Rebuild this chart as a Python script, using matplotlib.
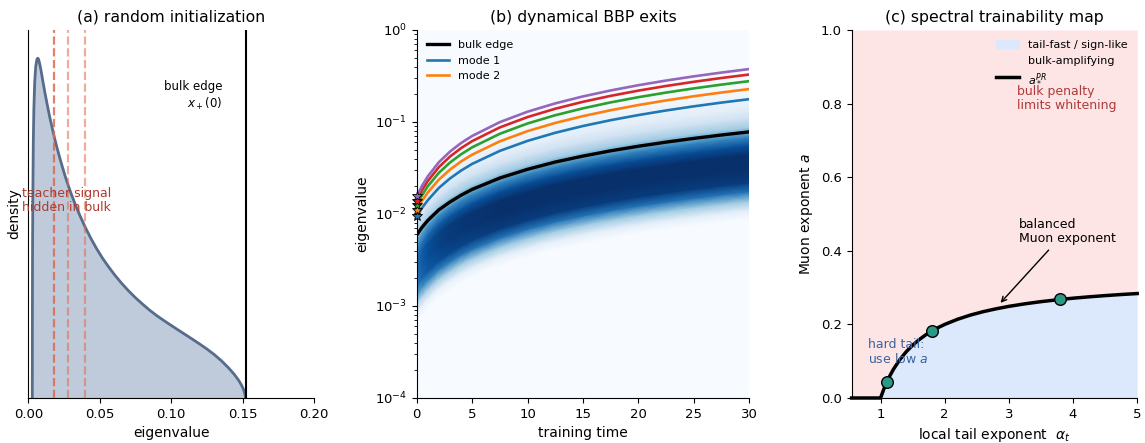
import numpy as np
import matplotlib.pyplot as plt
from matplotlib.lines import Line2D
from matplotlib.patches import Patch

# (a) bulk density at initialisation (normalised to its peak)
dens_x = [0.0028, 0.00285, 0.0029, 0.0030, 0.0032, 0.0035, 0.0039, 0.0045, 0.0052, 0.0060,
          0.0066, 0.0072, 0.0080, 0.0090, 0.0100, 0.0117, 0.0135, 0.015, 0.0165, 0.0182,
          0.020, 0.022, 0.024, 0.026, 0.028, 0.030, 0.033, 0.036, 0.040, 0.044,
          0.048, 0.052, 0.056, 0.060, 0.065, 0.070, 0.075, 0.080, 0.085, 0.090,
          0.095, 0.100, 0.105, 0.110, 0.115, 0.120, 0.125, 0.130, 0.135, 0.140,
          0.144, 0.147, 0.149, 0.1505, 0.1515, 0.152]
dens_y = [0.0, 0.15, 0.30, 0.45, 0.60, 0.75, 0.85, 0.93, 0.975, 0.996,
          1.0, 0.997, 0.983, 0.962, 0.937, 0.897, 0.858, 0.827, 0.799, 0.768,
          0.738, 0.707, 0.678, 0.650, 0.625, 0.601, 0.568, 0.538, 0.501, 0.468,
          0.438, 0.411, 0.387, 0.3645, 0.339, 0.316, 0.295, 0.276, 0.258, 0.242,
          0.2275, 0.2135, 0.1998, 0.1862, 0.1725, 0.1585, 0.144, 0.128, 0.110, 0.089,
          0.070, 0.053, 0.039, 0.026, 0.013, 0.0]
bulk_edge0 = 0.152
teacher_modes = [0.018, 0.028, 0.040]
teacher_alpha = [0.85, 0.55, 0.55]

# (b) bulk edge and outlier trajectories
t_pts = [0, 0.5, 1, 2, 3, 4, 5, 7.5, 10, 12.5, 15, 17.5, 20, 22.5, 25, 27.5, 30]
edge = [0.0059, 0.0072, 0.0085, 0.0111, 0.0135, 0.0160, 0.0185, 0.0246, 0.0306, 0.0367,
        0.0426, 0.0486, 0.0545, 0.0604, 0.0663, 0.0722, 0.0781]
modes = [
    [0.0094, 0.0117, 0.0141, 0.0192, 0.0243, 0.0296, 0.0350, 0.0485, 0.0623, 0.0763,
     0.0904, 0.1046, 0.1189, 0.1334, 0.1479, 0.1625, 0.177],
    [0.0110, 0.0140, 0.0171, 0.0236, 0.0303, 0.0372, 0.0441, 0.0616, 0.0795, 0.0976,
     0.1158, 0.1342, 0.1528, 0.1715, 0.1903, 0.2091, 0.228],
    [0.0125, 0.0161, 0.0200, 0.0280, 0.0362, 0.0445, 0.0530, 0.0744, 0.0963, 0.1184,
     0.1407, 0.1633, 0.1860, 0.2088, 0.2318, 0.2549, 0.278],
    [0.0140, 0.0183, 0.0228, 0.0323, 0.0420, 0.0519, 0.0619, 0.0873, 0.1131, 0.1393,
     0.1657, 0.1923, 0.2192, 0.2462, 0.2734, 0.3007, 0.328],
    [0.0155, 0.0204, 0.0256, 0.0365, 0.0476, 0.0590, 0.0704, 0.0996, 0.1293, 0.1593,
     0.1896, 0.2202, 0.2510, 0.2821, 0.3133, 0.3446, 0.376],
]
mode_colors = ['#1f77b4', '#ff7f0e', '#2ca02c', '#d62728', '#9467bd']
mode_labels = ['mode 1', 'mode 2', None, None, None]

# (b) bulk density: intensity profile vs log10(eigenvalue / bulk edge), strength per time
band_dlog = [-3.0, -0.95, -0.85, -0.75, -0.65, -0.55, -0.4, -0.25, -0.15, -0.05,
             0.05, 0.15, 0.25, 0.4, 0.55, 3.0]
band_val = [0, 0, 0.1, 0.38, 0.74, 0.95, 1.0, 1.0, 0.88, 0.66,
            0.36, 0.2, 0.1, 0.04, 0, 0]
band_strength = [0.75, 0.83, 0.88, 0.93, 0.96, 0.97, 0.98, 1, 1, 1, 1, 1, 1, 1, 1, 1, 1]

# (c) balanced Muon exponent vs tail exponent
alpha_t = [0.55, 1.0, 1.05, 1.1, 1.15, 1.2, 1.3, 1.4, 1.5, 1.6, 1.7, 1.8, 1.9, 2.0,
           2.2, 2.4, 2.6, 2.8, 3.0, 3.25, 3.5, 3.8, 4.0, 4.25, 4.5, 4.75, 5.0]
a_star = [0.0, 0.0, 0.0235, 0.0439, 0.0618, 0.0776, 0.1041, 0.1256, 0.1434, 0.1583, 0.1710,
          0.1819, 0.1915, 0.1999, 0.2139, 0.2253, 0.2346, 0.2423, 0.2490, 0.2559, 0.2618,
          0.2677, 0.2712, 0.2749, 0.2782, 0.2812, 0.2838]
dots_alpha = [1.1, 1.8, 3.8]
dots_a = [0.0439, 0.1819, 0.2677]

fig = plt.figure(figsize=(11.45, 4.43), dpi=100)
ax_a = fig.add_axes([0.0247, 0.1016, 0.2497, 0.8307])
ax_b = fig.add_axes([0.3639, 0.1016, 0.2904, 0.8307])
ax_c = fig.add_axes([0.7438, 0.1016, 0.2494, 0.8307])

for ax in (ax_a, ax_b, ax_c):
    ax.spines['top'].set_visible(False)
    ax.spines['right'].set_visible(False)
    ax.tick_params(labelsize=9.5)

# ---- (a)
ax_a.fill_between(dens_x, 0, dens_y, color='#bfcbdb', lw=0)
ax_a.plot(dens_x, dens_y, color='#566c8a', lw=2)
for xm, al in zip(teacher_modes, teacher_alpha):
    ax_a.axvline(xm, color='#e0694d', ls='--', lw=1.6, alpha=al, zorder=3)
ax_a.axvline(bulk_edge0, color='black', lw=1.5)
ax_a.text(0.027, 0.538 * 1.083, 'teacher signal\nhidden in bulk', color='#b03a2e', fontsize=9,
          ha='center', va='center', linespacing=1.1)
ax_a.text(0.136, 0.82 * 1.083, 'bulk edge\n$x_+(0)$', fontsize=8.5, ha='right', va='center')
ax_a.set_xlim(0, 0.2)
ax_a.set_ylim(0, 1.083)
ax_a.set_yticks([])
ax_a.set_xticks([0, 0.05, 0.1, 0.15, 0.2])
ax_a.set_xlabel('eigenvalue', fontsize=10)
ax_a.set_ylabel('density', fontsize=10, labelpad=5)
ax_a.set_title('(a) random initialization', fontsize=11.3)

# ---- (b)
ax_b.set_yscale('log')
ax_b.set_facecolor(plt.cm.Blues(0.0))
X = np.tile(t_pts, (len(band_dlog), 1))
Y = np.outer(10.0 ** np.array(band_dlog), edge)
Z = np.outer(band_val, band_strength)
ax_b.pcolormesh(X, Y, Z, cmap='Blues', vmin=0, vmax=1.0, shading='gouraud', zorder=0)
ax_b.plot(t_pts, edge, color='black', lw=2.4, label='bulk edge')
for m, c, lab in zip(modes, mode_colors, mode_labels):
    ax_b.plot(t_pts, m, color=c, lw=1.9, label=lab)
    ax_b.plot(0, m[0], marker='*', ms=7, color=c, mec='black', mew=0.6, clip_on=False, zorder=5)
ax_b.set_xlim(0, 30)
ax_b.set_ylim(1e-4, 1)
ax_b.set_xlabel('training time', fontsize=10)
ax_b.set_ylabel('eigenvalue', fontsize=10)
ax_b.set_title('(b) dynamical BBP exits', fontsize=11.3)
ax_b.legend(loc='upper left', frameon=False, fontsize=8)

# ---- (c)
ax_c.fill_between(alpha_t, 0, a_star, color='#dce8fb', lw=0)
ax_c.fill_between(alpha_t, a_star, 1, color='#fde5e5', lw=0)
ax_c.plot(alpha_t, a_star, color='black', lw=2.5, clip_on=False, zorder=3)
ax_c.scatter(dots_alpha, dots_a, s=70, color='#2a9a86', edgecolor='black', lw=1, zorder=4)
ax_c.text(0.81, 0.126, 'hard tail:\nuse low $a$', color='#3a64a0', fontsize=9, ha='left', va='center',
          linespacing=1.1)
ax_c.text(3.12, 0.85, 'bulk penalty\nlimits whitening', color='#b03a3a', fontsize=9, ha='left', va='top',
          linespacing=1.1)
ax_c.annotate('balanced\nMuon exponent', xy=(2.84, 0.253), xytext=(3.16, 0.415), fontsize=9,
              ha='left', va='bottom', linespacing=1.1,
              arrowprops=dict(arrowstyle='->', color='black', lw=1, shrinkA=2,
                              relpos=(0.35, 0.0)))
handles = [Patch(color='#dce8fb', label='tail-fast / sign-like'),
           Patch(color='#fde5e5', label='bulk-amplifying'),
           Line2D([], [], color='black', lw=2.5, label='$a_*^{PR}$')]
ax_c.legend(handles=handles, loc='upper right', frameon=False, fontsize=8)
ax_c.set_xlim(0.55, 5)
ax_c.set_ylim(0, 1)
ax_c.set_xticks([1, 2, 3, 4, 5])
ax_c.set_xlabel(r'local tail exponent  $\alpha_t$', fontsize=10)
ax_c.set_ylabel('Muon exponent $a$', fontsize=10)
ax_c.set_title('(c) spectral trainability map', fontsize=11.3)

fig.savefig('out.png', dpi=100)
